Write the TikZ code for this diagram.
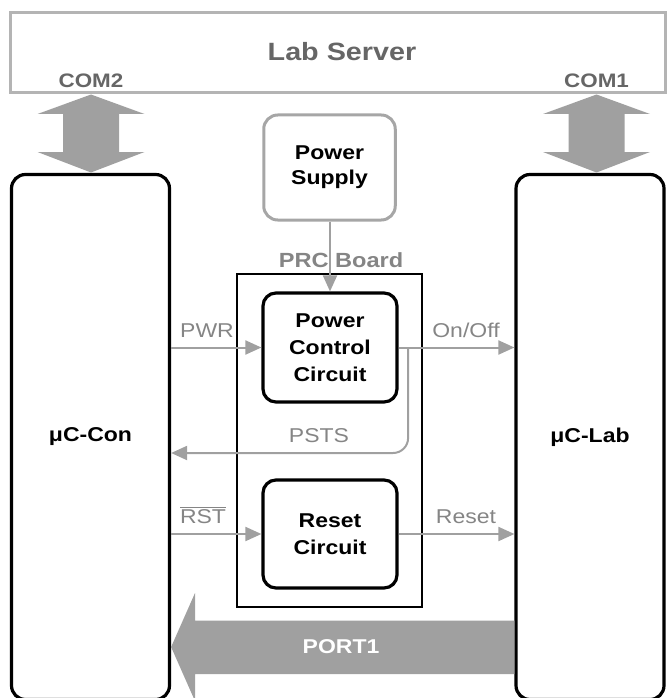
\documentclass[tikz,border=0pt]{standalone}
\usepackage{fontspec}
\setmainfont[FakeStretch=1.15]{Liberation Sans}
\usetikzlibrary{arrows.meta,calc}
\definecolor{agray}{HTML}{A0A0A0}
\definecolor{lgray}{HTML}{B4B4B4}
\definecolor{bgray}{HTML}{A6A6A6}
\definecolor{tgray}{HTML}{858585}
\definecolor{dgray}{HTML}{666666}
\begin{document}
\begin{tikzpicture}[x=1pt,y=-1pt,
  blk/.style={draw=black, line width=3.2pt, rounded corners=14pt, align=center,
    font=\bfseries\fontsize{20}{27}\selectfont, inner sep=0pt},
  gbox/.style={draw=bgray, line width=3pt, rounded corners=14pt, align=center,
    font=\bfseries\fontsize{20}{25}\selectfont, inner sep=0pt},
  sig/.style={draw=agray, line width=2pt, -{Triangle[length=16pt,width=14pt]}},
  lbl/.style={text=tgray, font=\fontsize{20}{24}\selectfont, inner sep=0pt, anchor=base},
  glbl/.style={text=dgray, font=\bfseries\fontsize{19.5}{24}\selectfont, inner sep=0pt, anchor=base},
  bigarrow/.style={fill=agray, draw=none}]
\useasboundingbox (0,0) rectangle (668,698);
\clip (0,0) rectangle (668,698);

% Lab server
\node[draw=lgray, line width=3pt, minimum width=655pt, minimum height=80pt, inner sep=0pt] (srv) at (337.5,53) {};
\node[text=dgray, font=\bfseries\fontsize{25}{30}\selectfont, inner sep=0pt, anchor=base] (srvt) at (342,61) {Lab Server};
\node[glbl] (com2) at (91,87.5) {COM2};
\node[glbl] (com1) at (596.5,87.5) {COM1};

% microcontrollers
\node[blk, minimum width=158pt, minimum height=525pt] (con) at (90.5,437) {μC-Con};
\node[blk, minimum width=148pt, minimum height=525pt] (lab) at (590,437) {μC-Lab};

% double arrows
\fill[bigarrow] (91,94.5) -- (144.5,114) -- (119,114) -- (119,152) -- (144.5,152) -- (91,172.5)
  -- (37.5,152) -- (63,152) -- (63,114) -- (37.5,114) -- cycle;
\fill[bigarrow] (596.5,94.5) -- (650,114) -- (624.5,114) -- (624.5,152) -- (650,152) -- (596.5,172.5)
  -- (543,152) -- (568.5,152) -- (568.5,114) -- (543,114) -- cycle;

% power supply and board
\node[gbox, minimum width=131.5pt, minimum height=105pt] (ps) at (329.5,167.5) {Power\\Supply};
\node[draw=black, line width=1.5pt, minimum width=185pt, minimum height=333pt, inner sep=0pt] (prc) at (329.5,440.5) {};
\node[text=tgray, font=\bfseries\fontsize{20.5}{24}\selectfont, inner sep=0pt, anchor=base] (prct) at (341,267) {PRC Board};
\node[blk, rounded corners=13pt, minimum width=134pt, minimum height=109pt] (pcc) at (330,347.5) {Power\\Control\\Circuit};
\node[blk, rounded corners=13pt, minimum width=134pt, minimum height=108pt] (rc) at (330,534) {Reset\\Circuit};

% signals
\draw[sig] (ps.south -| pcc.north) -- (pcc.north);
\draw[sig] (pcc.west -| con.east) -- (pcc.west);
\draw[sig] (pcc.east) -- (pcc.east -| lab.west);
\coordinate (br) at ($(pcc.east)+(9.5,0)$);
\coordinate (pstsy) at (0,453);
\draw[sig, rounded corners=15pt] (br) -- (br |- pstsy) -- (con.east |- pstsy);
\draw[sig] (rc.west -| con.east) -- (rc.west);
\draw[sig] (rc.east) -- (rc.east -| lab.west);

\node[lbl] (lpwr) at (207,337) {PWR};
\node[lbl] (lonoff) at (466,337) {On/Off};
\node[lbl] (lpsts) at (319,442.5) {PSTS};
\node[lbl] (lrst) at (203,523) {$\overline{\hbox{RST}}$};
\node[lbl] (lreset) at (466,523) {Reset};

% PORT1
\fill[bigarrow] (lab.west |- 0,620.5) -- (195,620.5) -- (195,593) -- (con.east |- 0,647) -- (195,701) -- (195,674) -- (lab.west |- 0,674) -- cycle;
\node[text=white, font=\bfseries\fontsize{20}{24}\selectfont, inner sep=0pt, anchor=base] (port) at (341,653.5) {PORT1};
\end{tikzpicture}
\end{document}
